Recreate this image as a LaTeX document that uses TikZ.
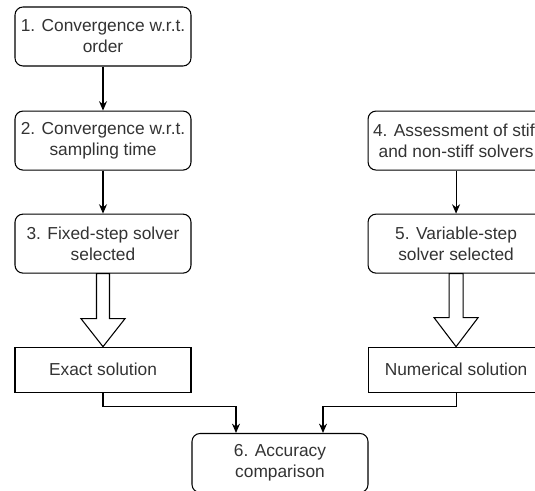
\documentclass[tikz,border=0pt]{standalone}
\usepackage{fontspec}
\setmainfont{Liberation Sans}
\usetikzlibrary{positioning, arrows.meta, calc}
\definecolor{textmain}{HTML}{333333}

\begin{document}
\begin{tikzpicture}[
    x=0.75pt, y=0.75pt,
    node distance=33pt,
    flowbox/.style={rectangle, draw=black, fill=white, text=textmain,
                rounded corners=6pt, minimum width=132pt, minimum height=44.25pt,
                inner sep=2pt, align=center, line width=0.8pt,
                font=\fontsize{13}{15.75}\selectfont},
    resultbox/.style={flowbox, rounded corners=0pt, minimum height=33.75pt},
    arrow/.style={-{Stealth[length=7pt, width=6pt]}, line width=0.8pt},
    hollow/.style={draw=black, fill=white, line width=0.8pt, line join=miter}
  ]
    \useasboundingbox (0,0) rectangle (535,-491);
    \clip (0,0) rectangle (535,-491);

    \node[flowbox] (conv1) at (103,-36.5) {1. Convergence w.r.t.\\order};
    \node[flowbox, below=of conv1] (conv2) {2. Convergence w.r.t.\\sampling time};
    \node[flowbox, below=32.25pt of conv2] (fixed) {3. Fixed-step solver\\selected};
    \node[resultbox, below=54.75pt of fixed] (exact) {Exact solution};
    \node[flowbox, right=132pt of conv2] (assess) {4. Assessment of stiff\\and non-stiff solvers};
    \node[flowbox, below=32.25pt of assess] (variable) {5. Variable-step\\solver selected};
    \node[resultbox, below=54.75pt of variable] (numeric) {Numerical solution};
    \node[flowbox] (accuracy) at (280,-463) {6. Accuracy\\comparison};

    \draw[arrow] (conv1) -- (conv2);
    \draw[arrow] (conv2) -- (fixed);
    \draw[arrow] (assess) -- (variable);

    % hollow block arrows
    \draw[hollow] ($(fixed.south)+(-6.5,0)$) -- ++(0,-45) -- ++(-15.5,0)
        -- (exact.north) -- ++(22,28) -- ++(-15.5,0) -- ($(fixed.south)+(6.5,0)$) -- cycle;
    \draw[hollow] ($(variable.south)+(-7,0)$) -- ++(0,-44) -- ++(-15,0)
        -- (numeric.north) -- ++(22,29) -- ++(-15,0) -- ($(variable.south)+(7,0)$) -- cycle;

    \draw[arrow] (exact.south) -- ++(0,-14) -| ($(accuracy.north)+(-44,0)$);
    \draw[arrow] (numeric.south) -- ++(0,-14) -| ($(accuracy.north)+(43,0)$);
  \end{tikzpicture}
\end{document}
